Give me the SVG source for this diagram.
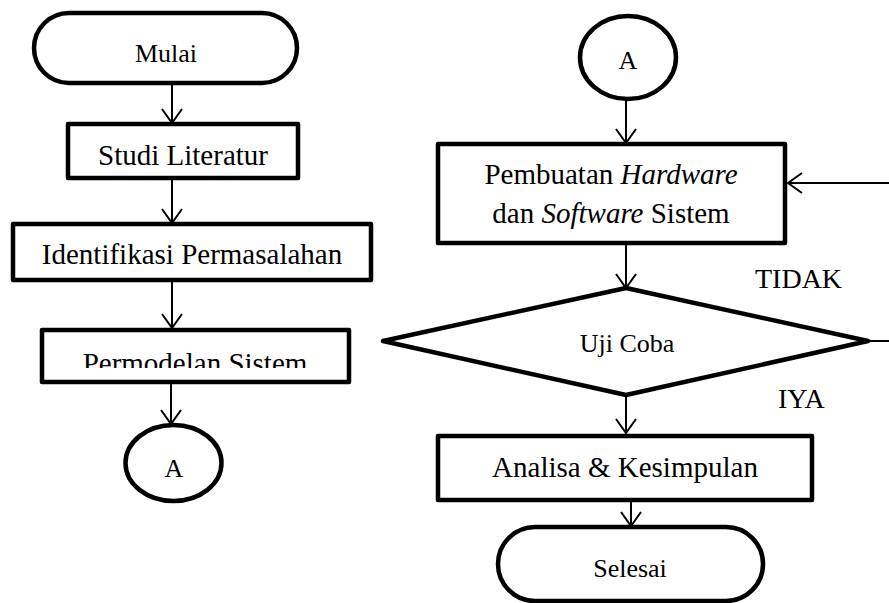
<svg xmlns="http://www.w3.org/2000/svg" width="889" height="603" viewBox="0 0 889 603">
<style>
.shape{fill:#fff;stroke:#000;stroke-width:4.5;stroke-linejoin:round}
.conn{fill:none;stroke:#000;stroke-width:2}
text{font-family:"Liberation Serif","Times New Roman",serif;fill:#000;text-anchor:middle}
.big{font-size:29px}
.small{font-size:26px}
.lbl{font-size:28px;text-anchor:start}
</style>
<defs>
<marker id="arr" viewBox="-16 -12 18 24" markerWidth="18" markerHeight="24" refX="0" refY="0" markerUnits="userSpaceOnUse" orient="auto">
<path d="M-14,-10 L0,0 L-14,10" fill="none" stroke="#000" stroke-width="2"/>
</marker>
<clipPath id="clipPerm"><rect x="40" y="330" width="310" height="38"/></clipPath>
</defs>
<rect width="889" height="603" fill="#fff"/>
<g id="connectors">
<line class="conn" x1="172" y1="83" x2="172" y2="123" marker-end="url(#arr)"/>
<line class="conn" x1="172" y1="178" x2="172" y2="223" marker-end="url(#arr)"/>
<line class="conn" x1="172" y1="280" x2="172" y2="328" marker-end="url(#arr)"/>
<line class="conn" x1="171" y1="382" x2="171" y2="424" marker-end="url(#arr)"/>
<line class="conn" x1="626" y1="99" x2="626" y2="143" marker-end="url(#arr)"/>
<line class="conn" x1="626" y1="243" x2="626" y2="288" marker-end="url(#arr)"/>
<line class="conn" x1="626" y1="388" x2="626" y2="433" marker-end="url(#arr)"/>
<line class="conn" x1="631" y1="500" x2="631" y2="526" marker-end="url(#arr)"/>
<path class="conn" d="M868,341 H900 V183 H788" marker-end="url(#arr)"/>
</g>
<g id="mulai">
<rect class="shape" x="34" y="13" width="263" height="70" rx="35" ry="35"/>
<text class="small" x="166" y="62">Mulai</text>
</g>
<g id="studi">
<rect class="shape" x="68" y="124" width="230" height="54"/>
<text class="big" x="183" y="165">Studi Literatur</text>
</g>
<g id="identifikasi">
<rect class="shape" x="13" y="224" width="358" height="56"/>
<text class="big" x="192" y="264">Identifikasi Permasalahan</text>
</g>
<g id="permodelan">
<rect class="shape" x="42" y="330" width="307" height="52"/>
<text class="big" x="195" y="373" clip-path="url(#clipPerm)">Permodelan Sistem</text>
</g>
<g id="connA1">
<ellipse class="shape" cx="173.5" cy="463" rx="48" ry="38"/>
<text class="small" x="174" y="477">A</text>
</g>
<g id="connA2">
<ellipse class="shape" cx="628" cy="57.5" rx="48" ry="41.5"/>
<text class="small" x="628" y="69">A</text>
</g>
<g id="pembuatan">
<rect class="shape" x="438" y="144" width="347" height="99"/>
<text class="big" x="611" y="184">Pembuatan <tspan font-style="italic">Hardware</tspan></text>
<text class="big" x="611" y="223">dan <tspan font-style="italic">Software</tspan> Sistem</text>
</g>
<g id="ujicoba">
<polygon class="shape" points="383,341 626,288 868,341 626,395"/>
<text class="small" x="627" y="352">Uji Coba</text>
</g>
<g id="labels">
<text class="lbl" x="755" y="288">TIDAK</text>
<text class="lbl" x="778" y="408">IYA</text>
</g>
<g id="analisa">
<rect class="shape" x="438" y="436" width="374" height="64"/>
<text class="big" x="625" y="477">Analisa &amp; Kesimpulan</text>
</g>
<g id="selesai">
<rect class="shape" x="498" y="527" width="265" height="74" rx="37" ry="37"/>
<text class="small" x="630" y="577">Selesai</text>
</g>
</svg>
